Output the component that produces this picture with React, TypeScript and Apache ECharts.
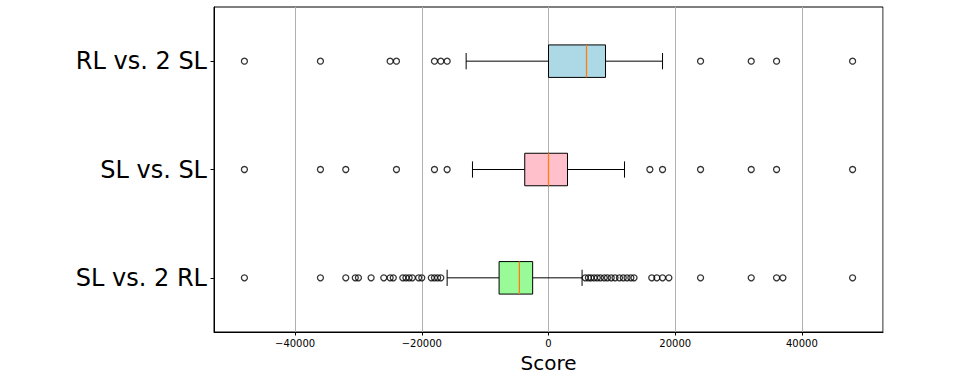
import React, { useEffect, useRef } from 'react';
import * as echarts from 'echarts';

const categories = ['SL vs. 2 RL', 'SL vs. SL', 'RL vs. 2 SL'];
const boxFills = ['#98fb98', '#ffc0cb', '#add8e6'];

// [whiskerLow, q1, median, q3, whiskerHigh]
const statsSL2RL = [-16000, -7800, -4600, -2500, 5300];
const statsSLSL = [-12000, -3750, 0, 3000, 12000];
const statsRL2SL = [-13000, 0, 6000, 9000, 18000];

const outliersSL2RL = [
  -48000, -36000, -32000, -30500, -30000, -28000, -26000, -25000, -24500, -23000,
  -22500, -22000, -21500, -20500, -20000, -18500, -18000, -17500, -17000,
  5800, 6300, 6700, 7200, 7700, 8200, 8800, 9300, 9900, 10500, 11200, 11800, 12400,
  13000, 13500, 16300, 17100, 18000, 19000, 24000, 32000, 36000, 37000, 48000,
];
const outliersSLSL = [
  -48000, -36000, -32000, -24000, -18000, -16000, 16000, 18000, 24000, 32000, 36000, 48000,
];
const outliersRL2SL = [
  -48000, -36000, -25000, -24000, -18000, -17000, -16000, 24000, 32000, 36000, 48000,
];

const xMin = -52800;
const xMax = 52800;

const allStats = [statsSL2RL, statsSLSL, statsRL2SL];
const allOutliers = [outliersSL2RL, outliersSLSL, outliersRL2SL];

export default function App() {
  const ref = useRef<HTMLDivElement>(null);

  useEffect(() => {
    document.body.style.margin = '0';
    if (!ref.current) return;
    const chart = echarts.init(ref.current, null, { renderer: 'svg' });

    const boxData = allStats.map((s, i) => [i, ...s]);
    const outlierData: number[][] = [];
    allOutliers.forEach((arr, i) => arr.forEach((v) => outlierData.push([v, i])));

    const fmt = (v: number) => {
      if (v % 20000 !== 0) return '';
      return v < 0 ? '\u2212' + Math.abs(v) : String(v);
    };

    chart.setOption({
      animation: false,
      backgroundColor: '#ffffff',
      textStyle: { fontFamily: 'DejaVu Sans' },
      grid: {
        left: 214,
        right: 76,
        top: 7,
        bottom: 48,
        show: true,
        borderColor: '#000',
        borderWidth: 1,
        backgroundColor: 'transparent',
      },
      xAxis: {
        type: 'value',
        min: xMin,
        max: xMax,
        splitNumber: 5,
        name: 'Score',
        nameLocation: 'middle',
        nameGap: 20,
        nameTextStyle: { fontSize: 20, color: '#000', fontFamily: 'DejaVu Sans' },
        axisLine: { show: true, onZero: false, lineStyle: { color: '#000', width: 1 } },
        axisTick: { show: true, length: 3.5, lineStyle: { color: '#000' } },
        axisLabel: {
          fontSize: 10,
          color: '#000',
          margin: 6,
          fontFamily: 'DejaVu Sans',
          formatter: fmt,
          showMinLabel: false,
          showMaxLabel: false,
        },
        splitLine: { show: true, lineStyle: { color: '#b0b0b0', width: 1 } },
      },
      yAxis: {
        type: 'category',
        data: categories,
        boundaryGap: true,
        axisLine: { show: true, onZero: false, lineStyle: { color: '#000', width: 1 } },
        axisTick: { show: true, alignWithLabel: true, length: 3.5, lineStyle: { color: '#000' } },
        axisLabel: { fontSize: 24, color: '#000', margin: 7, fontFamily: 'DejaVu Sans' },
        splitLine: { show: false },
      },
      series: [
        {
          type: 'custom',
          data: boxData,
          encode: { x: [1, 2, 3, 4, 5], y: 0 },
          z: 2,
          renderItem: (params: any, api: any) => {
            const cat = api.value(0);
            const vals = [api.value(1), api.value(2), api.value(3), api.value(4), api.value(5)];
            const xs = vals.map((v: number) => api.coord([v, cat])[0]);
            const yc = api.coord([0, cat])[1];
            const band = api.size([0, 1])[1];
            const bh = band * 0.15;
            const ch = band * 0.075;
            const ls = { stroke: '#000', lineWidth: 1 };
            return {
              type: 'group',
              children: [
                { type: 'line', shape: { x1: xs[0], y1: yc, x2: xs[1], y2: yc }, style: ls },
                { type: 'line', shape: { x1: xs[3], y1: yc, x2: xs[4], y2: yc }, style: ls },
                { type: 'line', shape: { x1: xs[0], y1: yc - ch, x2: xs[0], y2: yc + ch }, style: ls },
                { type: 'line', shape: { x1: xs[4], y1: yc - ch, x2: xs[4], y2: yc + ch }, style: ls },
                {
                  type: 'rect',
                  shape: { x: xs[1], y: yc - bh, width: xs[3] - xs[1], height: 2 * bh },
                  style: { fill: boxFills[params.dataIndex], stroke: '#000', lineWidth: 1 },
                },
                {
                  type: 'line',
                  shape: { x1: xs[2], y1: yc - bh, x2: xs[2], y2: yc + bh },
                  style: { stroke: '#ff7f0e', lineWidth: 1.3 },
                },
              ],
            };
          },
        },
        {
          type: 'scatter',
          data: outlierData,
          symbol: 'circle',
          symbolSize: 6,
          z: 3,
          itemStyle: { color: 'rgba(255,255,255,0)', borderColor: '#000', borderWidth: 1.3 },
          emphasis: { disabled: true },
        },
      ],
    });

    return () => {
      chart.dispose();
    };
  }, []);

  return <div ref={ref} style={{ width: 959, height: 380 }} />;
}
